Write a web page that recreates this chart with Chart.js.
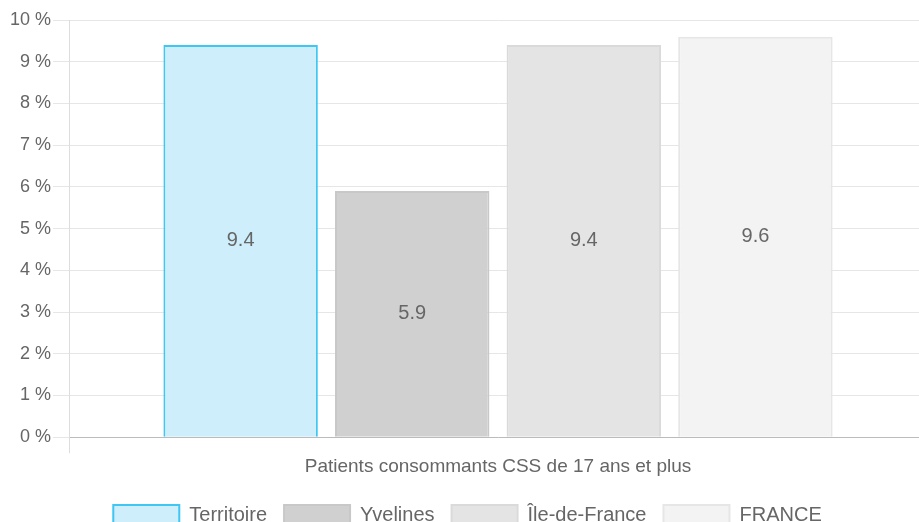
<!DOCTYPE html>
<html>
<head>
<meta charset="utf-8">
<script src="https://cdn.jsdelivr.net/npm/chart.js@4"></script>
<style>
  html, body { margin: 0; padding: 0; background: #fff; overflow: hidden; width: 919px; height: 522px; }
  #wrap { position: absolute; left: 0; top: 0; width: 930px; height: 535px; }
</style>
</head>
<body>
<div id="wrap"><canvas id="c"></canvas></div>
<script>
// Share of patients covered, by area
const categories = ['Patients consommants CSS de 17 ans et plus'];
const seriesNames = ['Territoire', 'Yvelines', 'Île-de-France', 'FRANCE'];
const territoire = [9.4];
const yvelines = [5.9];
const ileDeFrance = [9.4];
const france = [9.6];
const yTicks = [0, 1, 2, 3, 4, 5, 6, 7, 8, 9, 10];

const FONT = '"Liberation Sans", Arial, sans-serif';
const fills = ['#cdeefa', '#d0d0d0', '#e4e4e4', '#f3f3f3'];
const borders = ['#3fc6f2', '#c8c8c8', '#dadada', '#e6e6e6'];
const values = [territoire, yvelines, ileDeFrance, france];

// Writes each bar's value in the middle of the bar
const centerLabels = {
  id: 'centerLabels',
  afterDatasetsDraw(chart) {
    const ctx = chart.ctx;
    ctx.save();
    ctx.font = '20px ' + FONT;
    ctx.fillStyle = '#666';
    ctx.textAlign = 'center';
    ctx.textBaseline = 'middle';
    chart.data.datasets.forEach((ds, i) => {
      chart.getDatasetMeta(i).data.forEach((bar, j) => {
        const p = bar.getProps(['x', 'y', 'base'], true);
        ctx.fillText(String(ds.data[j]), p.x, (p.y + p.base) / 2);
      });
    });
    ctx.restore();
  }
};

new Chart(document.getElementById('c'), {
  type: 'bar',
  data: {
    labels: categories,
    datasets: seriesNames.map((name, i) => ({
      label: name,
      data: values[i],
      backgroundColor: fills[i],
      borderColor: borders[i],
      borderWidth: 2
    }))
  },
  options: {
    responsive: true,
    maintainAspectRatio: false,
    animation: false,
    layout: { padding: { top: 20, right: 3, left: 8, bottom: 0 } },
    plugins: {
      legend: {
        position: 'bottom',
        labels: {
          boxWidth: 66,
          boxHeight: 20,
          padding: 17,
          color: '#666',
          font: { size: 20, family: FONT }
        }
      },
      tooltip: { enabled: false }
    },
    scales: {
      x: {
        afterFit(scale) { scale.height += 8; },
        grid: { drawOnChartArea: false, tickLength: 16, color: '#ddd' },
        border: { color: '#bbb' },
        ticks: { color: '#666', padding: 2, font: { size: 19, family: FONT } }
      },
      y: {
        min: yTicks[0],
        max: yTicks[yTicks.length - 1],
        afterBuildTicks(axis) { axis.ticks = yTicks.map(v => ({ value: v })); },
        grid: { color: '#e6e6e6', tickLength: 16 },
        border: { color: '#ddd' },
        ticks: {
          color: '#666',
          padding: 2,
          font: { size: 18, family: FONT },
          callback: v => v + ' %'
        }
      }
    }
  },
  plugins: [centerLabels]
});
</script>
</body>
</html>
